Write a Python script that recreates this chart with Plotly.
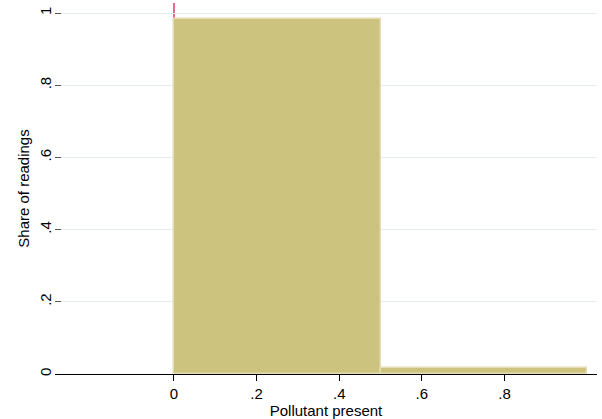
import plotly.graph_objects as go

# Histogram of a binary indicator: two bins of width 0.5
bin_left = [0.0, 0.5]
bin_width = [0.5, 0.5]
share = [0.983, 0.017]

x_ticks = [0, 0.2, 0.4, 0.6, 0.8]
x_tick_text = ["0", ".2", ".4", ".6", ".8"]
y_ticks = [0, 0.2, 0.4, 0.6, 0.8, 1]
y_tick_text = ["0", ".2", ".4", ".6", ".8", "1"]

FONT = "Liberation Sans, Arial, sans-serif"

fig = go.Figure()

fig.add_trace(go.Bar(
    x=[l + w / 2 for l, w in zip(bin_left, bin_width)],
    y=share,
    width=bin_width,
    marker=dict(color="#cbc37e", line=dict(color="#e3dcb4", width=1.5)),
    showlegend=False,
))

# reference line at zero, layered beneath the bars
fig.add_shape(
    type="line", xref="x", yref="paper",
    x0=0, x1=0, y0=0, y1=1,
    line=dict(color="#d4083a", width=1.2),
    layer="below",
)

fig.update_layout(
    width=602, height=419,
    margin=dict(l=55, r=5, t=3, b=45),
    paper_bgcolor="white",
    plot_bgcolor="white",
    font=dict(family=FONT, size=15, color="black"),
    bargap=0,
)

fig.update_xaxes(
    range=[-0.288, 1.024],
    tickvals=x_ticks, ticktext=x_tick_text,
    ticks="outside", ticklen=6, tickwidth=1, tickcolor="black",
    showline=True, linecolor="black", linewidth=1.2,
    showgrid=False, zeroline=False,
    tickfont=dict(size=15),
    title=dict(text="Pollutant present", font=dict(size=15), standoff=0),
)

fig.update_yaxes(
    range=[0, 1.028],
    tickvals=y_ticks, ticktext=y_tick_text,
    tickangle=-90,
    ticks="inside", ticklen=6, tickwidth=1, tickcolor="#555555",
    showline=False,
    showgrid=True, gridcolor="#e6eded", gridwidth=1,
    zeroline=False,
    tickfont=dict(size=15),
    ticklabelstandoff=0,
    title=dict(text="Share of readings", font=dict(size=15), standoff=3),
)

fig.write_html("out.html")
